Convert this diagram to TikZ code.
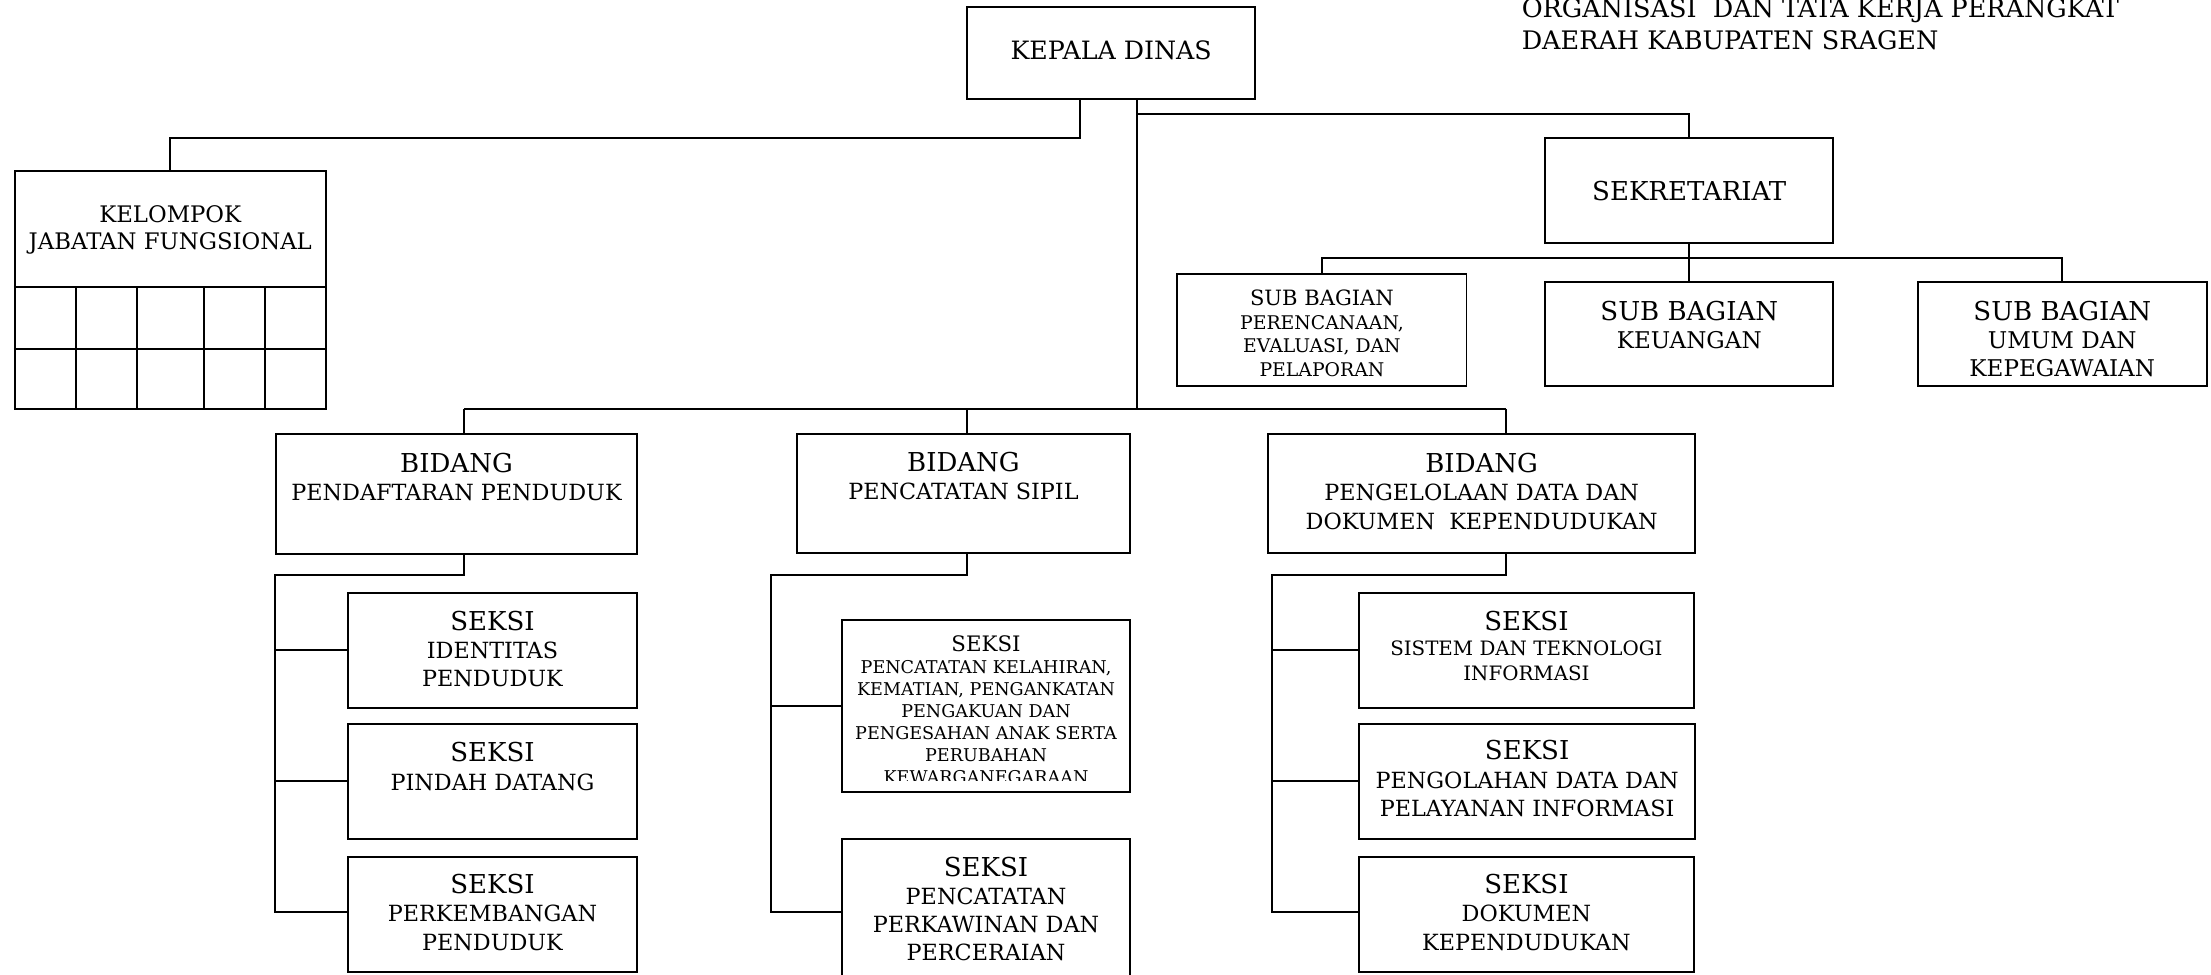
\documentclass[tikz,border=0pt]{standalone}
\usepackage{fontspec}
\setmainfont{DejaVu Serif}
\usetikzlibrary{fit}
\newcommand{\headsize}{\fontsize{10.5}{11.4}\selectfont}

\begin{document}
\begin{tikzpicture}[x=0.02cm,y=-0.02cm,line width=0.8pt,
    box/.style={draw,inner sep=0pt},
    txt/.style={anchor=north,align=center,inner sep=0pt},
    big/.style={font=\fontsize{9}{11.4}\selectfont},
    sub/.style={font=\fontsize{9.3}{11.4}\selectfont},
    small/.style={font=\fontsize{7.6}{9.45}\selectfont},
    tiny/.style={font=\fontsize{7.1}{8.88}\selectfont}]
    \useasboundingbox (0,0) rectangle (1568,691);
    % Draw the boxes
    \node[box,fit={(686,5) (890,70)}] (kd) {};
    \node[box,fit={(10.5,121) (231,290)}] (kjf) {};
    \node[box,fit={(1096,98) (1300,172)}] (sek) {};
    \node[box,fit={(835,194.5) (1040,274)}] (spe) {};
    \node[box,fit={(1096,200) (1300,274)}] (sku) {};
    \node[box,fit={(1360,200) (1565,274)}] (sum) {};
    \node[box,fit={(196,308) (451.5,393)}] (bpd) {};
    \node[box,fit={(565,308) (801.5,392.5)}] (bps) {};
    \node[box,fit={(899.5,308) (1202,392.5)}] (bpk) {};
    \node[box,fit={(247,420.5) (451.5,502)}] (sid) {};
    \node[box,fit={(247,513.5) (451.5,594.7)}] (spdt) {};
    \node[box,fit={(247,607.7) (451.5,689)}] (spk) {};
    \node[box,fit={(597,439.4) (801.5,561.5)}] (skl) {};
    \node[box,fit={(597,594.7) (801.5,720)}] (spc) {};
    \node[box,fit={(964,420.5) (1201,502)}] (sst) {};
    \node[box,fit={(964,513.5) (1202,594.7)}] (spl) {};
    \node[box,fit={(964,607.7) (1201,689)}] (sdk) {};
    % Draw the grid under the functional group
    \foreach \y in {203.5,247.5}
      \draw (kjf.west |- 0,\y) -- (kjf.east |- 0,\y);
    \foreach \x in {54,97,145,188}
      \draw (\x,203.5) -- (\x,0 |- kjf.south);
    % Draw the lines from the head
    \coordinate (tk) at (kd.south -| 806,0);
    \coordinate (bus) at (806,290);
    \draw (tk) -- (bus);
    \draw (kd.south -| 766,0) |- (kjf.north |- 0,98) -- (kjf.north);
    \draw (tk |- 0,81) -| (sek.north);
    \coordinate (sj) at (sek.south |- 0,183);
    \draw (sek.south) -- (sj);
    \draw (spe.north) |- (sj) -| (sum.north);
    \draw (sj) -- (sku.north);
    \draw (329,290) -- (1068,290);
    \foreach \b/\x in {bpd/329, bps/686, bpk/1068}
      \draw (\x,290) -- (\b.north -| \x,0);
    % Draw the lines to the sections
    \foreach \b/\x/\s/\c in {bpd/329/195/spk, bps/686/546.6/spc, bpk/1068/902/sdk}
      \draw (\b.south -| \x,0) |- (\s,408) |- (\c.west |- 0,646.6);
    \foreach \c/\s in {sid/195, spdt/195, skl/546.6, sst/902, spl/902}
      \draw (\c.west) -- (\c.west -| \s,0);
    % Draw the labels
    \node[anchor=north west,align=left,inner sep=0pt,font=\fontsize{10.3}{12.97}\selectfont] (ttl)
      at (1078.5,-1.7) {ORGANISASI\ \ DAN TATA KERJA PERANGKAT\\DAERAH KABUPATEN SRAGEN};
    \node[txt,font=\fontsize{10.2}{11.4}\selectfont] (kd-t) at (788,28.3) {KEPALA DINAS};
    \node[txt,font=\fontsize{9.2}{10.8}\selectfont] (kjf-t) at (120.75,145.4) {KELOMPOK\\JABATAN FUNGSIONAL};
    \node[txt,font=\fontsize{10.5}{11.4}\selectfont] (sek-t) at (1198,127.5) {SEKRETARIAT};
    \node[txt,small] (spe-t) at (937.5,205.1)
      {{\fontsize{8.5}{9.45}\selectfont SUB BAGIAN}\\PERENCANAAN,\\EVALUASI, DAN\\PELAPORAN};
    \node[txt,sub] (sku-t) at (1198,212.8) {{\headsize SUB BAGIAN}\\KEUANGAN};
    \node[txt,sub] (sum-t) at (1462.5,212.8) {{\headsize SUB BAGIAN}\\UMUM DAN\\KEPEGAWAIAN};
    \node[txt,big] (bpd-t) at (323.75,320.8) {{\headsize BIDANG}\\PENDAFTARAN PENDUDUK};
    \node[txt,big] (bps-t) at (683.25,319.8) {{\headsize BIDANG}\\PENCATATAN SIPIL};
    \node[txt,big] (bpk-t) at (1050.75,320.8) {{\headsize BIDANG}\\PENGELOLAAN DATA DAN\\DOKUMEN\ \ KEPENDUDUKAN};
    \node[txt,big] (sid-t) at (349.25,432.55) {{\headsize SEKSI}\\IDENTITAS\\PENDUDUK};
    \node[txt,big] (spdt-t) at (349.25,525.95) {{\headsize SEKSI}\\PINDAH DATANG};
    \node[txt,big] (spk-t) at (349.25,619.35) {{\headsize SEKSI}\\PERKEMBANGAN\\PENDUDUK};
    \begin{scope}
      \clip (skl.north west) rectangle (801.5,553.7);
      \node[txt,tiny] (skl-t) at (699.25,450) {{\fontsize{8.6}{8.88}\selectfont SEKSI}\\PENCATATAN KELAHIRAN,\\KEMATIAN, PENGANKATAN\\PENGAKUAN DAN\\PENGESAHAN ANAK SERTA\\PERUBAHAN\\KEWARGANEGARAAN};
    \end{scope}
    \node[txt,big] (spc-t) at (699.25,606.95) {{\headsize SEKSI}\\PENCATATAN\\PERKAWINAN DAN\\PERCERAIAN};
    \node[txt,font=\fontsize{8}{10.24}\selectfont] (sst-t) at (1082.5,432.55)
      {{\headsize SEKSI}\\SISTEM DAN TEKNOLOGI\\INFORMASI};
    \node[txt,big] (spl-t) at (1083,524.55) {{\headsize SEKSI}\\PENGOLAHAN DATA DAN\\PELAYANAN INFORMASI};
    \node[txt,big] (sdk-t) at (1082.5,619.35) {{\headsize SEKSI}\\DOKUMEN\\KEPENDUDUKAN};
  \end{tikzpicture}
\end{document}
